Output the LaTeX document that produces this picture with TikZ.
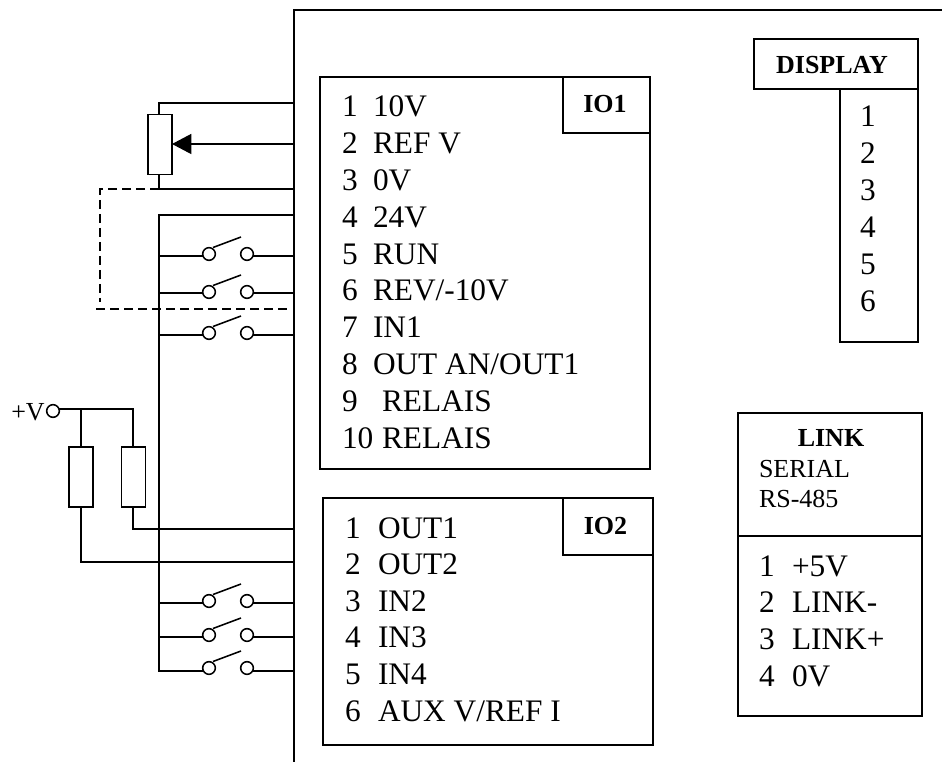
\documentclass[tikz,border=0pt]{standalone}
\usepackage{fontspec}
\setmainfont{Liberation Serif}
\usetikzlibrary{arrows.meta}
\tikzset{
  wire/.style={line width=1.15pt,line cap=rect},
  frameline/.style={line width=1.6pt},
  dashwire/.style={line width=1.15pt,dash pattern=on 7pt off 3.5pt},
  boxn/.style={draw,line width=1.15pt,inner sep=0pt,outer sep=0pt},
  res/.style={draw,line width=1.15pt,fill=white,inner sep=0pt,outer sep=0pt,minimum width=18pt,minimum height=45pt},
  term/.style={circle,draw,line width=1.15pt,fill=white,inner sep=0pt,outer sep=0pt,minimum size=9.5pt},
  lab/.style={anchor=base west,inner sep=0pt,outer sep=0pt,font=\fontsize{23.5}{28}\selectfont},
  clab/.style={anchor=base,inner sep=0pt,outer sep=0pt,font=\fontsize{23.5}{28}\selectfont},
  hdb/.style={anchor=base,inner sep=0pt,outer sep=0pt,font=\fontsize{19.5}{24}\selectfont\bfseries},
  hdl/.style={anchor=base west,inner sep=0pt,outer sep=0pt,font=\fontsize{19.5}{24}\selectfont}
}
\newcommand{\boxn}[5]{\node[boxn,minimum width={(#4-#2)*0.75pt},minimum height={(#5-#3)*0.75pt}] (#1) at ({(#2+#4)/2},{(#3+#5)/2}) {};}
% switch: name, wire y, circle y
\newcommand{\swn}[3]{%
  \node[term] (#1a) at (209,#3) {};
  \node[term] (#1b) at (247,#3) {};
  \coordinate (#1l) at (159,#2);
  \coordinate (#1r) at (294,#2);
  \coordinate (#1s) at (213,#3-6.5);
  \coordinate (#1e) at (241,#3-17);
  \draw[wire] (#1l) -- (#1a.west |- #1l);
  \draw[wire] (#1b.east |- #1r) -- (#1r);
  \draw[wire,line cap=butt] (#1s) -- (#1e);
}
\begin{document}
\begin{tikzpicture}[x=0.75pt,y=-0.75pt]
\useasboundingbox (0,0) rectangle (942,762);
% frame
\coordinate (fb) at (294,762);
\coordinate (ft) at (294,10);
\coordinate (fr) at (942,10);
\draw[frameline] (fb) -- (ft) -- (fr);
% potentiometer
\node[res] (pot) at (160,144.5) {};
\coordinate (p1) at (294,103);
\coordinate (p2) at (294,144);
\coordinate (p3) at (294,189);
\coordinate (ptop) at (159,103);
\coordinate (pbot) at (159,189);
\draw[wire] (pot.north -| ptop) -- (ptop) -- (p1);
\draw[wire] (pot.south -| pbot) -- (pbot) -- (p3);
\draw[wire,line cap=butt,-{Triangle[length=14.5pt,width=15pt]}] (p2) -- (pot.east |- p2);
% dashed
\coordinate (d1) at (100,189);
\coordinate (d2) at (100,302);
\coordinate (d3) at (96,309);
\coordinate (d4) at (291,309);
\draw[dashwire] (pbot) -- (d1) -- (d2);
\draw[dashwire] (d3) -- (d4);
% rail
\coordinate (rt) at (159,215);
\coordinate (rb) at (159,671);
\coordinate (rr) at (294,215);
\draw[wire] (rr) -- (rt) -- (rb);
\swn{sa}{256}{254}
\swn{sb}{293}{292}
\swn{sc}{335}{333}
\swn{sd}{603}{601}
\swn{se}{637}{635}
\swn{sf}{671}{668}
% +V
\node[term] (vt) at (53,411) {};
\node[anchor=base west,inner sep=0pt,font=\fontsize{19.5}{24}\selectfont] (vl) at (11,421) {+V};
\node[res] (r1) at (81,477) {};
\node[res] (r2) at (133.5,477) {};
\coordinate (vj) at (81,409);
\coordinate (vk) at (133,409);
\coordinate (w1) at (133,529);
\coordinate (w2) at (81,562);
\coordinate (w1r) at (294,529);
\coordinate (w2r) at (294,562);
\draw[wire] (vt.east |- vk) -- (vk) -- (r2.north -| vk);
\draw[wire] (vj) -- (r1.north -| vj);
\draw[wire] (r2.south -| w1) -- (w1) -- (w1r);
\draw[wire] (r1.south -| w2) -- (w2) -- (w2r);
% IO1
\boxn{io}{320}{77}{650}{469}
\boxn{iol}{563}{77}{650}{133}
\node[hdb] (iot) at (605,113) {IO1};
\foreach \n/\t [count=\i from 0] in {1/10V,2/REF V,3/0V,4/24V,5/RUN,6/{REV/-10V},7/IN1,8/{OUT AN/OUT1}}{
  \node[lab] (ion\i) at (342,117+36.8*\i) {\n};
  \node[lab] (iot\i) at (373,117+36.8*\i) {\t};
}
\node[lab] (ion8) at (342,411.4) {9};
\node[lab] (iot8) at (382,411.4) {RELAIS};
\node[lab] (ion9) at (342,448.2) {10};
\node[lab] (iot9) at (382,448.2) {RELAIS};
% IO2
\boxn{it}{323}{498}{653}{745}
\boxn{itl}{563}{498}{653}{555}
\node[hdb] (itt) at (605.5,534) {IO2};
\foreach \n/\t [count=\i from 0] in {1/OUT1,2/OUT2,3/IN2,4/IN3,5/IN4,6/{AUX V/REF I}}{
  \node[lab] (itn\i) at (345,538+36.6*\i) {\n};
  \node[lab] (itx\i) at (378,538+36.6*\i) {\t};
}
% DISPLAY
\boxn{dh}{754}{39}{918}{89}
\boxn{db}{840}{89}{918}{342}
\node[hdb] (dt) at (832,74) {DISPLAY};
\foreach \n [count=\i from 0] in {1,...,6}{
  \node[clab] (dn\i) at (868,127+37*\i) {\n};
}
% LINK
\boxn{lk}{738}{413}{922}{716}
\coordinate (lkd) at (738,536);
\coordinate (lke) at (922,536);
\draw[wire,line cap=butt] (lkd) -- (lke);
\node[hdb] (lt) at (831,447) {LINK};
\node[hdl] (ls) at (759,478) {SERIAL};
\node[hdl] (lr) at (759,508) {RS-485};
\foreach \n/\t [count=\i from 0] in {1/+5V,2/LINK-,3/LINK+,4/0V}{
  \node[lab] (ln\i) at (759,576+36.7*\i) {\n};
  \node[lab] (lx\i) at (792,576+36.7*\i) {\t};
}
\end{tikzpicture}
\end{document}
